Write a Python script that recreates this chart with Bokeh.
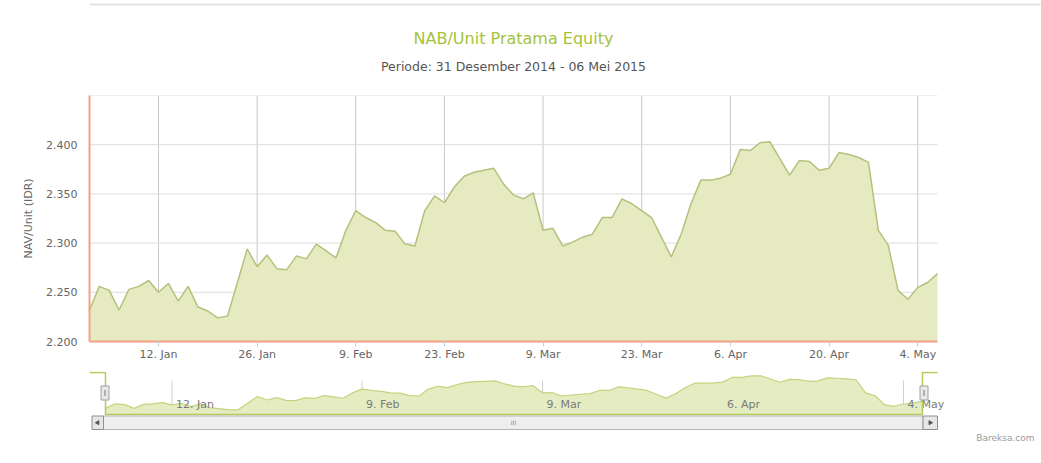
import pandas as pd
from bokeh.plotting import figure
from bokeh.models import Range1d, FixedTicker
from bokeh.layouts import column
from bokeh.embed import file_html
from bokeh.resources import INLINE
from bokeh.core.properties import value

# ---------------- data ----------------
holidays = ["2015-01-01", "2015-02-19", "2015-04-03", "2015-05-01"]
dates = [d for d in pd.bdate_range("2014-12-31", "2015-05-06")
         if d.strftime("%Y-%m-%d") not in holidays]

nav_values = [
    2232, 2256, 2252, 2232, 2253, 2256, 2262, 2250, 2259, 2241,
    2256, 2235, 2231, 2224, 2226, 2260, 2294, 2276, 2288, 2274,
    2273, 2287, 2284, 2299, 2292, 2285, 2313, 2333, 2326, 2321,
    2313, 2312, 2299, 2297, 2333, 2348, 2341, 2357, 2368, 2372,
    2374, 2376, 2360, 2349, 2345, 2351, 2313, 2315, 2297, 2301,
    2306, 2309, 2326, 2326, 2345, 2340, 2333, 2326, 2306, 2286,
    2309, 2340, 2364, 2364, 2366, 2370, 2395, 2394, 2402, 2403,
    2386, 2369, 2384, 2383, 2374, 2376, 2392, 2390, 2387, 2382,
    2313, 2298, 2252, 2243, 2255, 2260, 2269,
]

main_tick_dates = ["2015-01-12", "2015-01-26", "2015-02-09", "2015-02-23", "2015-03-09",
                   "2015-03-23", "2015-04-06", "2015-04-20", "2015-05-04"]
nav_tick_dates = ["2015-01-12", "2015-02-09", "2015-03-09", "2015-04-06", "2015-05-04"]
y_ticks = [2200, 2250, 2300, 2350, 2400, 2450]

title_text = "NAB/Unit Pratama Equity"
subtitle_text = "Periode: 31 Desember 2014 - 06 Mei 2015"
y_title = "NAV/Unit (IDR)"
credit_text = "Bareksa.com"

# ---------------- derived ----------------
idx = list(range(len(dates)))
date_keys = [d.strftime("%Y-%m-%d") for d in dates]


def tick_label(s):
    d = pd.Timestamp(s)
    return f"{d.day}. {d.strftime('%b')}"


main_ticks = [date_keys.index(s) for s in main_tick_dates]
nav_ticks = [date_keys.index(s) for s in nav_tick_dates]
main_labels = {t: tick_label(s) for t, s in zip(main_ticks, main_tick_dates)}
nav_labels = [tick_label(s) for s in nav_tick_dates]
y_labels = {v: f"{v:,}".replace(",", ".") for v in y_ticks}
y_labels[y_ticks[-1]] = ""

FONT = "DejaVu Sans"
AXIS_ORANGE = "#F2A086"
FILL = "#E5EAC1"
LINE = "#B6C07C"
W = 1041
HEADER_H = 95
MAIN_BOTTOM = 363
LEFT = 89            # page x of plot area left edge
PLOT_R = 937         # page x of main series end
n_last = len(dates) - 1
y0, y1 = y_ticks[0], y_ticks[-1]


def bare(fig):
    fig.axis.visible = False
    fig.grid.visible = False
    fig.outline_line_color = None
    fig.background_fill_color = "white"
    fig.border_fill_color = "white"


# ---------------- header (title + subtitle) ----------------
h = figure(width=W, height=HEADER_H, x_range=Range1d(LEFT, W), y_range=Range1d(HEADER_H, 0),
           output_backend="svg", toolbar_location=None,
           min_border_left=LEFT, min_border_right=0, min_border_top=0, min_border_bottom=0)
bare(h)
h.line(x=[LEFT, W - 1], y=[4, 4], line_color="#E2E2E2", line_width=2)
h.text(x=[513], y=[38], text=[title_text], text_align="center", text_baseline="middle",
       text_font=value(FONT), text_font_size="16px", text_color="#A5C23D")
h.text(x=[513], y=[66], text=[subtitle_text], text_align="center", text_baseline="middle",
       text_font=value(FONT), text_font_size="12.5px", text_color="#555555")

# ---------------- main chart ----------------
ppx_main = (PLOT_R - LEFT) / n_last
p = figure(width=W, height=MAIN_BOTTOM - HEADER_H,
           x_range=Range1d(0, (W - LEFT) / ppx_main), y_range=Range1d(y0, y1),
           output_backend="svg", toolbar_location=None,
           min_border_left=LEFT, min_border_right=0, min_border_top=0, min_border_bottom=22)
p.outline_line_color = None
p.background_fill_color = "white"
p.border_fill_color = "white"
p.grid.visible = False

# grid lines limited to the data span
p.segment(x0=main_ticks, y0=[y0] * len(main_ticks), x1=main_ticks, y1=[y1] * len(main_ticks),
          line_color="#C8C8C8", line_width=1)
p.segment(x0=[0] * len(y_ticks), y0=y_ticks, x1=[n_last] * len(y_ticks), y1=y_ticks,
          line_color="#DDDDDD", line_width=1)

p.varea(x=idx, y1=[y0] * len(idx), y2=nav_values, fill_color=FILL)
p.line(x=idx, y=nav_values, line_color=LINE, line_width=1.5)

p.xaxis.ticker = FixedTicker(ticks=main_ticks)
p.xaxis.bounds = (0, n_last)
p.xaxis.major_label_overrides = main_labels
p.xaxis.major_label_text_font = FONT
p.xaxis.major_label_text_font_size = "11px"
p.xaxis.major_label_text_color = "#666666"
p.xaxis.major_tick_out = 5
p.xaxis.major_tick_in = 0
p.xaxis.major_tick_line_color = "#C0D0E0"
p.xaxis.minor_tick_line_color = None
p.xaxis.major_label_standoff = 1
p.xaxis.axis_line_color = AXIS_ORANGE
p.xaxis.axis_line_width = 2

p.yaxis.ticker = FixedTicker(ticks=y_ticks)
p.yaxis.major_label_overrides = y_labels
p.yaxis.major_label_text_font = FONT
p.yaxis.major_label_text_font_size = "11px"
p.yaxis.major_label_text_color = "#666666"
p.yaxis.major_tick_out = 0
p.yaxis.major_tick_in = 0
p.yaxis.minor_tick_line_color = None
p.yaxis.major_label_standoff = 12
p.yaxis.axis_line_color = AXIS_ORANGE
p.yaxis.axis_line_width = 2
p.yaxis.axis_label = y_title
p.yaxis.axis_label_text_font = FONT
p.yaxis.axis_label_text_font_size = "11px"
p.yaxis.axis_label_text_font_style = "normal"
p.yaxis.axis_label_text_color = "#666666"
p.yaxis.axis_label_standoff = 8

# ---------------- navigator ----------------
NAV_L, NAV_R = 105.0, 922.0        # page px of first/last point
NAV_TOP, NAV_BASE = 372.0, 414.0   # page px of navigator top / baseline
NAV_VTOP, NAV_VBASE = 2420.0, 2200.0
ppx = (NAV_R - NAV_L) / n_last
vpp = (NAV_VTOP - NAV_VBASE) / (NAV_BASE - NAV_TOP)
NAV_FRAME_T, NAV_FRAME_B = 371, 463


def nx(px):
    return (px - NAV_L) / ppx


def ny(py):
    return NAV_VBASE + (NAV_BASE - py) * vpp


n = figure(width=W, height=463 - MAIN_BOTTOM, x_range=Range1d(nx(LEFT), nx(W)),
           y_range=Range1d(ny(NAV_FRAME_B), ny(NAV_FRAME_T)),
           output_backend="svg", toolbar_location=None,
           min_border_left=LEFT, min_border_right=0,
           min_border_top=NAV_FRAME_T - MAIN_BOTTOM, min_border_bottom=463 - NAV_FRAME_B)
bare(n)

n.segment(x0=nav_ticks, y0=[ny(NAV_BASE)] * len(nav_ticks), x1=nav_ticks, y1=[ny(380)] * len(nav_ticks),
          line_color="#CFCFCF", line_width=1)
n.varea(x=idx, y1=[ny(NAV_BASE)] * len(idx), y2=nav_values, fill_color="#E5ECC2")
n.line(x=idx, y=nav_values, line_color="#C4D37E", line_width=1.2)
n.text(x=nav_ticks, y=[ny(NAV_BASE)] * len(nav_ticks), text=nav_labels, x_offset=4, y_offset=-4,
       text_align="left", text_baseline="bottom", text_font=value(FONT), text_font_size="11px",
       text_color="#7A7A7A")

# outline of navigator
n.line(x=[nx(LEFT), nx(NAV_L), nx(NAV_L), nx(NAV_R), nx(NAV_R), nx(PLOT_R)],
       y=[ny(NAV_TOP), ny(NAV_TOP), ny(NAV_BASE), ny(NAV_BASE), ny(NAV_TOP), ny(NAV_TOP)],
       line_color="#B2CB5A", line_width=1.5)

# scrollbar
n.quad(left=[nx(103)], right=[nx(922.5)], bottom=[ny(429)], top=[ny(415.5)],
       fill_color="#EEEEEE", line_color="#B5B5B5", line_width=1)
n.quad(left=[nx(91.5), nx(922.5)], right=[nx(103), nx(PLOT_R)], bottom=[ny(429)] * 2, top=[ny(415.5)] * 2,
       fill_color="#E6E6E6", line_color="#8F8F8F", line_width=1)
n.scatter(x=[nx(97.2), nx(929.7)], y=[ny(422.2)] * 2, marker="triangle", size=4,
          angle=[1.5708, -1.5708], fill_color="#555555", line_color="#555555")
n.text(x=[nx(513)], y=[ny(422.2)], text=["III"], text_align="center", text_baseline="middle",
       text_font=value(FONT), text_font_size="6px", text_color="#888888")

# handles
n.rect(x=[nx(104.5), nx(923.5)], y=[ny(392.5)] * 2, width=8, height=14,
       width_units="screen", height_units="screen", fill_color="#EBE7E8", line_color="#A0A0A0")
n.rect(x=[nx(104.5), nx(923.5)], y=[ny(392.5)] * 2, width=1, height=6,
       width_units="screen", height_units="screen", fill_color="#777777", line_color=None)

# credit
n.text(x=[nx(1034)], y=[ny(437)], text=[credit_text], text_align="right", text_baseline="middle",
       text_font=value(FONT), text_font_size="9px", text_color="#9A9A9A")

layout = column(h, p, n, spacing=0)
open("out.html", "w").write(file_html(layout, INLINE))
